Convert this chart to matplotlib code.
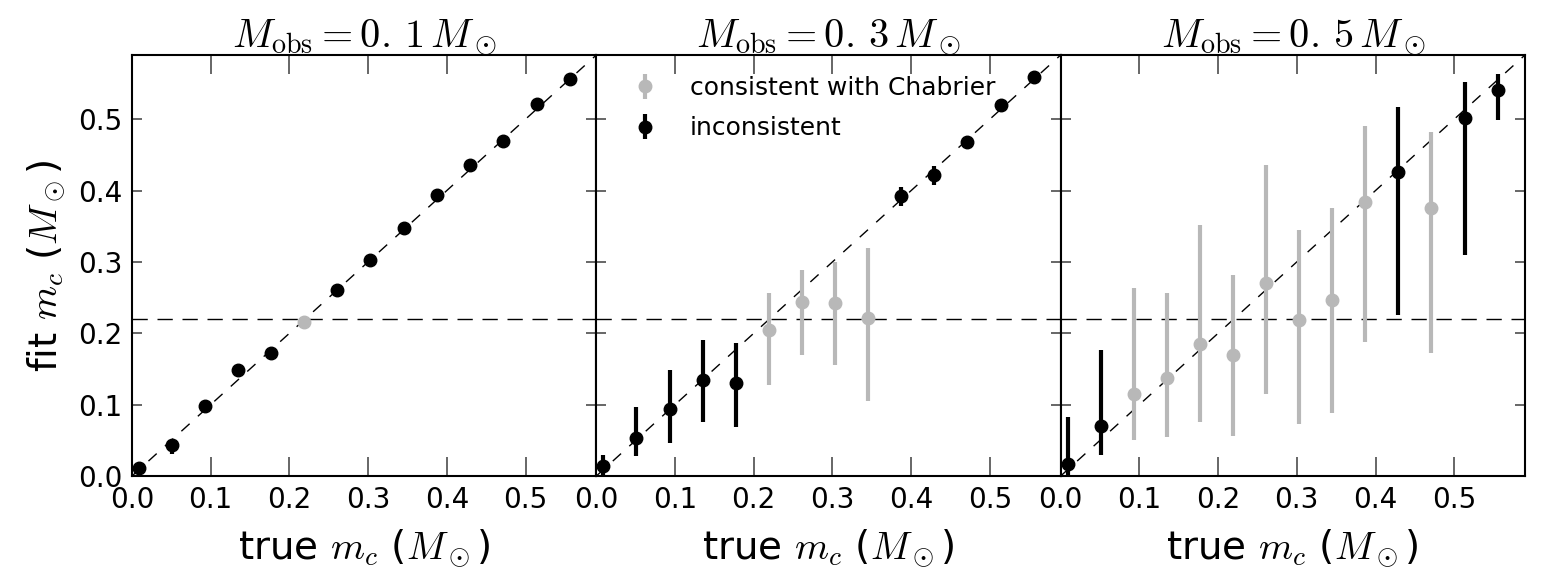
import numpy as np
import matplotlib
matplotlib.use("Agg")
import matplotlib.pyplot as plt

plt.rcParams['mathtext.fontset'] = 'cm'
plt.rcParams['font.family'] = ['DejaVu Sans']

# data
true_mc = [0.009, 0.051, 0.093, 0.135, 0.177, 0.219, 0.261, 0.303,
           0.345, 0.387, 0.429, 0.471, 0.514, 0.556]
m_obs = ['0.\\,1', '0.\\,3', '0.\\,5']
m_chab = 0.22

fit_01 = [0.011, 0.043, 0.098, 0.148, 0.173, 0.216, 0.261, 0.303,
          0.348, 0.394, 0.436, 0.470, 0.521, 0.557]
lo_01 = [0.003, 0.012, 0.004, 0.003, 0.003, 0.003, 0.003, 0.003,
         0.003, 0.003, 0.003, 0.003, 0.003, 0.003]
hi_01 = [0.003, 0.004, 0.004, 0.003, 0.003, 0.003, 0.003, 0.003,
         0.003, 0.003, 0.003, 0.003, 0.003, 0.003]
ok_01 = [0, 0, 0, 0, 0, 1, 0, 0, 0, 0, 0, 0, 0, 0]

fit_03 = [0.014, 0.053, 0.094, 0.134, 0.131, 0.205, 0.244, 0.243,
          0.221, 0.393, 0.422, 0.468, 0.520, 0.559]
lo_03 = [0.015, 0.025, 0.048, 0.058, 0.063, 0.077, 0.074, 0.087,
         0.116, 0.015, 0.014, 0.004, 0.004, 0.004]
hi_03 = [0.016, 0.043, 0.054, 0.057, 0.055, 0.052, 0.044, 0.057,
         0.098, 0.012, 0.012, 0.004, 0.004, 0.004]
ok_03 = [0, 0, 0, 0, 0, 1, 1, 1, 1, 0, 0, 0, 0, 0]

fit_05 = [0.017, 0.070, 0.115, 0.137, 0.185, 0.170, 0.270, 0.219,
          0.246, 0.384, 0.426, 0.375, 0.502, 0.541]
lo_05 = [0.070, 0.040, 0.065, 0.083, 0.109, 0.114, 0.155, 0.146,
         0.158, 0.196, 0.200, 0.202, 0.192, 0.042]
hi_05 = [0.065, 0.107, 0.148, 0.119, 0.167, 0.111, 0.166, 0.126,
         0.129, 0.107, 0.091, 0.107, 0.050, 0.022]
ok_05 = [0, 0, 1, 1, 1, 1, 1, 1, 1, 1, 0, 1, 0, 0]

panels = [(fit_01, lo_01, hi_01, ok_01),
          (fit_03, lo_03, hi_03, ok_03),
          (fit_05, lo_05, hi_05, ok_05)]

fig, axes = plt.subplots(1, 3, figsize=(15.42, 5.88), dpi=100, sharey=True)
fig.subplots_adjust(left=0.0856, right=0.989, top=0.9065, bottom=0.1905, wspace=0)

x = np.array(true_mc)
lim = 0.59
grey = '0.72'

for i, ax in enumerate(axes):
    fit, lo, hi, ok = [np.array(a) for a in panels[i]]
    good = ok == 1
    bad = ~good
    ax.plot([0, lim], [0, lim], 'k--', lw=1.0, dashes=(8, 8))
    ax.axhline(m_chab, color='k', ls='--', lw=1.0, dashes=(11, 7))
    ax.errorbar(x[good], fit[good], yerr=[lo[good], hi[good]], fmt='o',
                color=grey, mec=grey, ms=9, elinewidth=3, capsize=0,
                label='consistent with Chabrier', zorder=3)
    ax.errorbar(x[bad], fit[bad], yerr=[lo[bad], hi[bad]], fmt='o',
                color='k', ms=9, elinewidth=3, capsize=0,
                label='inconsistent', zorder=4)
    ax.set_xlim(0, lim)
    ax.set_ylim(0, lim)
    ax.set_xticks([0.0, 0.1, 0.2, 0.3, 0.4, 0.5])
    ax.set_yticks([0.0, 0.1, 0.2, 0.3, 0.4, 0.5])
    ax.tick_params(axis='both', direction='in', top=True, right=True,
                   labelsize=20, color='0.3', width=1.2, pad=7)
    ax.tick_params(axis='x', length=14)
    ax.tick_params(axis='y', length=7)
    for s in ax.spines.values():
        s.set_linewidth(1.5)
    ax.set_title(r'$M_{\rm obs} = %s\,M_\odot$' % m_obs[i], fontsize=29, pad=6)
    ax.set_xlabel(r'true $m_c$ ($M_\odot$)', fontsize=28, labelpad=10)
    if i > 0:
        ax.tick_params(labelleft=False)

axes[0].set_ylabel(r'fit $m_c$ ($M_\odot$)', fontsize=28, labelpad=8)
axes[1].legend(loc='upper left', frameon=False, numpoints=1, fontsize=18,
               handlelength=2.2, borderaxespad=0.45, handletextpad=0.7,
               labelspacing=0.65)

fig.savefig('out.png', dpi=100)
